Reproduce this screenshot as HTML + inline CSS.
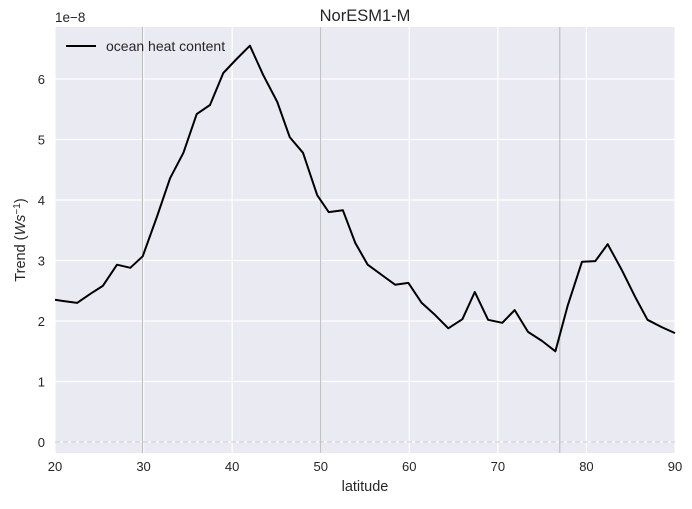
<!DOCTYPE html>
<html><head><meta charset="utf-8"><style>
body{margin:0;background:#fff}
svg{font-family:"Liberation Sans","DejaVu Sans",sans-serif}
</style></head><body>
<svg id="c" width="692" height="504"></svg>
<script>
const lats=[20.0,20.9,22.5,24.0,25.4,27.0,28.5,29.9,31.5,33.0,34.5,36.0,37.5,39.0,40.5,42.0,43.5,45.1,46.5,48.0,49.6,50.9,52.5,53.9,55.3,56.9,58.4,59.9,61.4,62.9,64.4,66.0,67.4,68.9,70.5,71.9,73.4,75.0,76.5,77.9,79.5,81.0,82.4,84.0,85.5,86.9,88.5,90.0];
const trend=[2.35,2.33,2.30,2.45,2.58,2.93,2.88,3.07,3.72,4.36,4.78,5.42,5.57,6.10,6.33,6.55,6.07,5.62,5.04,4.78,4.08,3.80,3.83,3.29,2.93,2.76,2.60,2.63,2.30,2.10,1.88,2.03,2.48,2.02,1.97,2.18,1.82,1.67,1.50,2.26,2.98,2.99,3.27,2.84,2.40,2.02,1.90,1.80];
const xTicks=[20,30,40,50,60,70,80,90];
const yTicks=[0,1,2,3,4,5,6];
const vLines=[29.9,50.0,77.0];
const L=55,R=675,T=27,B=453;
const X=v=>L+(v-20)/70*(R-L);
const Y=v=>442-v*60.5;
const s=document.getElementById('c');
const NS='http://www.w3.org/2000/svg';
function mk(t,a,p){const e=document.createElementNS(NS,t);for(const k in a)e.setAttribute(k,a[k]);(p||s).appendChild(e);return e;}
let bg=mk('rect',{x:L,y:T,width:R-L,height:B-T,fill:'#eaeaf2'});


xTicks.forEach(t=>{
 let g=mk('line',{x1:X(t),x2:X(t),y1:T,y2:B,stroke:'#fff','stroke-width':1.2});
 
 
 let l=mk('text',{x:X(t),y:B+18,'text-anchor':'middle','font-size':13,fill:'#262626'});
 l.textContent=t;
 
 
});
yTicks.forEach(t=>{
 let g=mk('line',{x1:L,x2:R,y1:Y(t),y2:Y(t),stroke:'#fff','stroke-width':1.2});
 
 
 let l=mk('text',{x:L-10,y:Y(t)+5,'text-anchor':'end','font-size':13,fill:'#262626'});
 l.textContent=t;
 
 
});
vLines.forEach(v=>{
 let g=mk('line',{x1:X(v),x2:X(v),y1:T,y2:B,stroke:'#aaa','stroke-width':0.8});
 
 
});
let z=mk('line',{x1:L,x2:R,y1:Y(0),y2:Y(0),stroke:'#bbb','stroke-width':0.8,'stroke-dasharray':'5,3'});


let pts=lats.map((v,i)=>X(v).toFixed(1)+','+Y(trend[i]).toFixed(1)).join(' ');
let ln=mk('polyline',{points:pts,fill:'none',stroke:'#000','stroke-width':2,'stroke-linejoin':'round'});


let lg=mk('line',{x1:66,x2:96,y1:46,y2:46,stroke:'#000','stroke-width':2});


let lt=mk('text',{x:106,y:51,'font-size':14,fill:'#262626'});
lt.textContent='ocean heat content';


let ti=mk('text',{x:365,y:21,'text-anchor':'middle','font-size':16.5,fill:'#262626'});
ti.textContent='NorESM1-M';


let of=mk('text',{x:55,y:22,'font-size':13.5,fill:'#262626'});
of.textContent='1e\u22128';


let xl=mk('text',{x:365,y:491,'text-anchor':'middle','font-size':14.5,fill:'#262626'});
xl.textContent='latitude';


let yl=mk('text',{x:0,y:0,'text-anchor':'middle','font-size':14.5,fill:'#262626',transform:'translate(25,240) rotate(-90)'});
yl.innerHTML='Trend (<tspan font-style="italic">Ws</tspan><tspan dy="-5" font-size="10">\u22121</tspan><tspan dy="5">)</tspan>';


</script>
</body></html>
